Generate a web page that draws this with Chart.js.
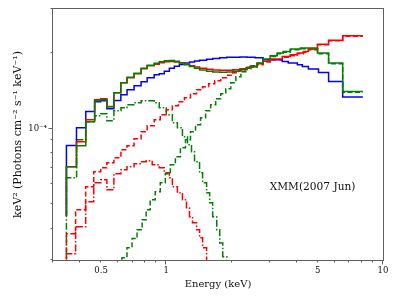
<!DOCTYPE html>
<html><head><meta charset="utf-8">
<script src="https://cdn.jsdelivr.net/npm/chart.js@4"></script>
<style>html,body{margin:0;padding:0;background:#fff;}canvas{display:block;}</style>
</head><body>
<canvas id="c" width="399" height="299"></canvas>
<script>
// ---- axis ranges & ticks ----
const xMin = 0.3, xMax = 10;
const yMin = 3e-5, yMax = 3e-4;
const xTickValues = [0.3,0.4,0.5,0.6,0.7,0.8,0.9,1,2,3,4,5,6,7,8,9,10];
const xMajorTicks = [1,10];
const xTickLabels = {0.5:'0.5', 1:'1', 5:'5', 10:'10'};
const yTickValues = [3e-5,4e-5,5e-5,6e-5,7e-5,8e-5,9e-5,1e-4,2e-4,3e-4];
const yMajorTicks = [1e-4];
const yTickLabelValue = 1e-4, yTickLabelText = '10⁻⁴';
const xTitle = 'Energy (keV)';
const yTitle = 'keV² (Photons cm⁻² s⁻¹ keV⁻¹)';
const annotText = 'XMM(2007 Jun)';
const annotE = 3.0, annotF = 5.86e-5;

// ---- blue total (bin edges in keV, values per bin) ----
const blueStart = 4.5e-5;
const blueEdges = [0.346,0.385,0.425,0.467,0.498,0.532,0.573,0.617,0.659,0.710,0.765,0.816,0.879,0.928,0.979,1.033,1.089,1.149,1.213,1.279,1.350,1.424,1.535,1.637,1.764,1.902,2.028,2.186,2.356,2.567,2.796,3.427,3.654,4.024,4.245,4.526,5.039,5.610,6.516,8.072];
const blueValues = [8.58e-5,1.009e-4,1.172e-4,1.281e-4,1.293e-4,1.201e-4,1.296e-4,1.366e-4,1.430e-4,1.483e-4,1.539e-4,1.597e-4,1.641e-4,
 1.656e-4,1.695e-4,1.742e-4,1.774e-4,1.803e-4,1.827e-4,1.845e-4,1.861e-4,1.874e-4,1.892e-4,1.906e-4,1.918e-4,1.925e-4,1.929e-4,1.931e-4,1.927e-4,1.918e-4,
 1.883e-4,1.854e-4,1.827e-4,1.799e-4,1.771e-4,1.729e-4,1.676e-4,1.543e-4,1.338e-4];

// ---- red total ----
const redStart = 4.5e-5;
const redEdges = [0.346,0.385,0.425,0.467,0.498,0.532,0.573,0.617,0.659,0.710,0.765,0.816,0.879,0.928,0.979,1.033,1.089,1.149,1.213,1.279,1.350,1.424,1.535,1.637,1.764,1.902,2.028,2.186,2.356,2.432,2.622,2.796,3.014,3.427,3.734,4.024,4.291,4.526,4.985,5.610,6.516,8.072];
const redValues = [0.706e-4,0.888e-4,1.086e-4,1.305e-4,1.317e-4,1.227e-4,1.391e-4,1.525e-4,1.597e-4,1.656e-4,1.734e-4,1.782e-4,1.807e-4,
 1.832e-4,1.849e-4,1.852e-4,1.844e-4,1.827e-4,1.807e-4,1.782e-4,1.761e-4,1.742e-4,1.726e-4,1.715e-4,1.711e-4,1.711e-4,1.718e-4,1.734e-4,1.758e-4,
 1.771e-4,1.816e-4,1.857e-4,1.895e-4,1.941e-4,1.971e-4,2.002e-4,2.032e-4,2.078e-4,2.171e-4,2.252e-4,2.347e-4];

// ---- green total ----
const greenStart = 4.5e-5;
const greenEdges = [0.346,0.385,0.425,0.467,0.498,0.532,0.573,0.617,0.659,0.710,0.765,0.816,0.879,0.928,0.979,1.033,1.089,1.149,1.213,1.279,1.350,1.424,1.535,1.637,1.764,1.902,2.028,2.186,2.356,2.432,2.622,2.796,3.014,3.249,3.464,3.734,4.155,4.985,5.610,6.516,8.072];
const greenValues = [0.706e-4,0.856e-4,1.066e-4,1.293e-4,1.305e-4,1.224e-4,1.391e-4,1.525e-4,1.604e-4,1.664e-4,1.742e-4,1.791e-4,1.824e-4,
 1.849e-4,1.866e-4,1.870e-4,1.857e-4,1.832e-4,1.799e-4,1.769e-4,1.742e-4,1.715e-4,1.695e-4,1.682e-4,1.679e-4,1.682e-4,1.695e-4,1.718e-4,1.742e-4,
 1.766e-4,1.827e-4,1.895e-4,1.953e-4,2.002e-4,2.032e-4,2.078e-4,2.097e-4,2.002e-4,1.827e-4,1.408e-4];

// ---- red hard component (dashed) ----
const redHardEdges = [0.346,0.3815,0.4245,0.4625,0.4984,0.5317,0.573,0.6175,0.6585,0.7099,0.7652,0.8159,0.8794,0.9378,1.0,1.0664,1.1371,1.2128,1.2930,1.3790,1.4704,1.5679,1.6723,1.7834,1.9020,2.0277,2.1623,2.3061,2.4587,2.6219,2.7963,3.0135,3.4271,3.7336,4.0237,4.2910,4.5264,4.9851,5.6098,6.5163,8.0724];
const redHardValues = [0.382e-4,0.476e-4,0.587e-4,0.674e-4,0.699e-4,0.732e-4,0.766e-4,0.825e-4,0.856e-4,0.912e-4,
 0.973e-4,1.028e-4,1.086e-4,1.137e-4,1.190e-4,1.235e-4,1.281e-4,1.329e-4,1.379e-4,1.430e-4,
 1.470e-4,1.511e-4,1.553e-4,1.597e-4,1.634e-4,1.672e-4,1.703e-4,1.734e-4,1.758e-4,1.799e-4,
 1.844e-4,1.883e-4,1.927e-4,1.953e-4,1.989e-4,2.017e-4,2.064e-4,2.161e-4,2.242e-4,2.336e-4];

// ---- red soft component (dash-dot) ----
const redSoftEdges = [0.346,0.3815,0.4245,0.4625,0.4984,0.5317,0.573,0.6175,0.6585,0.7099,0.7571,0.8072,0.8608,0.9278,0.9788,1.0326,1.0664,1.1250,1.1870,1.2392,1.2794,1.3211,1.3790,1.4238,1.4704,1.5346];
const redSoftValues = [0.318e-4,0.407e-4,0.512e-4,0.609e-4,0.626e-4,0.571e-4,0.662e-4,0.687e-4,0.706e-4,0.726e-4,
 0.739e-4,0.746e-4,0.719e-4,0.699e-4,0.668e-4,0.638e-4,0.587e-4,0.556e-4,0.521e-4,0.485e-4,
 0.446e-4,0.422e-4,0.396e-4,0.368e-4,0.336e-4];

// ---- green soft component (dash-dot) ----
const greenSoftEdges = [0.346,0.3855,0.4245,0.4674,0.4984,0.5317,0.573,0.6175,0.6585,0.7099,0.7652,0.8159,0.8794,0.9278,1.0,1.0664,1.125,1.187,1.2525,1.3071,1.3497,1.4238,1.4704,1.5346,1.5849,1.6368,1.7087,1.7644,1.8221,1.9020];
const greenSoftValues = [0.638e-4,0.904e-4,1.066e-4,1.127e-4,1.148e-4,1.076e-4,1.180e-4,1.212e-4,1.246e-4,1.269e-4,
 1.293e-4,1.293e-4,1.269e-4,1.212e-4,1.137e-4,1.057e-4,1.009e-4,0.929e-4,0.864e-4,0.810e-4,
 0.739e-4,0.668e-4,0.609e-4,0.556e-4,0.507e-4,0.446e-4,0.396e-4,0.351e-4,0.309e-4];

// ---- green hard component (dashed) ----
const greenHardEdges = [0.6241,0.6585,0.6949,0.7330,0.7735,0.8072,0.8427,0.8888,0.9378,0.9894,1.0438,1.1012,1.1618,1.2259,1.2930,1.3643,1.4391,1.5186,1.6021,1.6904,1.7834,1.8817,1.9846,2.0941,2.2092,2.3310,2.4587,2.6219,2.7963,3.0135,3.2485,3.4637,3.7336,4.1550,4.9851,5.6098,6.5163,8.0724];
const greenHardValues = [0.306e-4,0.336e-4,0.365e-4,0.396e-4,0.434e-4,0.476e-4,0.521e-4,0.561e-4,0.609e-4,0.662e-4,
 0.719e-4,0.774e-4,0.840e-4,0.904e-4,0.973e-4,1.037e-4,1.106e-4,1.180e-4,1.246e-4,1.317e-4,
 1.379e-4,1.443e-4,1.525e-4,1.612e-4,1.687e-4,1.750e-4,1.782e-4,1.824e-4,1.883e-4,1.940e-4,
 1.989e-4,2.017e-4,2.064e-4,2.083e-4,1.989e-4,1.816e-4,1.398e-4];

const offScale = 1e-5; // below the plotted range

function stepData(edges, values, start, end) {
  const pts = [{x: edges[0], y: start}];
  for (let i = 0; i < values.length; i++) pts.push({x: edges[i], y: values[i]});
  pts.push({x: edges[edges.length - 1], y: end === undefined ? values[values.length - 1] : end});
  return pts;
}

const BLUE = '#0000ff', RED = '#ff0000', GREEN = '#008000';
const serif = "'DejaVu Serif', 'Liberation Serif', serif";

function ds(label, data, color, dash, order) {
  return {label, data, borderColor: color, backgroundColor: color, borderWidth: 1.5,
    borderDash: dash, pointRadius: 0, stepped: true, fill: false, order, tension: 0};
}

const datasets = [
  ds('green total', stepData(greenEdges, greenValues, greenStart), GREEN, [], 1),
  ds('red total', stepData(redEdges, redValues, redStart), RED, [], 2),
  ds('blue total', stepData(blueEdges, blueValues, blueStart), BLUE, [], 3),
  ds('green hard', stepData(greenHardEdges, greenHardValues, offScale), GREEN, [5, 2.5], 4),
  ds('red hard', stepData(redHardEdges, redHardValues, offScale), RED, [5, 2.5], 5),
  ds('green soft', stepData(greenSoftEdges, greenSoftValues, offScale, offScale), GREEN, [7, 2, 1.5, 2], 6),
  ds('red soft', stepData(redSoftEdges, redSoftValues, offScale, offScale), RED, [7, 2, 1.5, 2], 7),
];

const frameAndTicks = {
  id: 'frameAndTicks',
  afterDraw(chart) {
    const {ctx, chartArea: a, scales: {x, y}} = chart;
    ctx.save();
    ctx.strokeStyle = '#606060';
    ctx.lineWidth = 1;
    ctx.strokeRect(Math.round(a.left) - 0.5, Math.round(a.top) - 0.5,
      Math.round(a.right) - Math.round(a.left) + 1, Math.round(a.bottom) - Math.round(a.top) + 1);
    ctx.beginPath();
    xTickValues.forEach(v => {
      const px = Math.round(x.getPixelForValue(v)) - 0.5;
      const len = xMajorTicks.includes(v) ? 4.5 : 2.5;
      ctx.moveTo(px, Math.round(a.bottom)); ctx.lineTo(px, Math.round(a.bottom) + len);
    });
    yTickValues.forEach(v => {
      const py = Math.round(y.getPixelForValue(v)) - 0.5;
      const len = yMajorTicks.includes(v) ? 4.5 : 2.5;
      ctx.moveTo(Math.round(a.left), py); ctx.lineTo(Math.round(a.left) - len, py);
    });
    ctx.stroke();
    ctx.fillStyle = '#111';
    ctx.font = "10.6px " + serif;
    ctx.textAlign = 'left';
    ctx.textBaseline = 'middle';
    ctx.fillText(annotText, x.getPixelForValue(annotE), y.getPixelForValue(annotF));
    ctx.restore();
  }
};

new Chart(document.getElementById('c'), {
  type: 'line',
  data: {datasets},
  options: {
    responsive: false, animation: false, devicePixelRatio: 1,
    layout: {padding: {left: 0, top: 9, right: 16, bottom: 0}},
    plugins: {legend: {display: false}, tooltip: {enabled: false}},
    scales: {
      x: {
        type: 'logarithmic', min: xMin, max: xMax,
        afterFit: s => { s.height = 39; },
        afterBuildTicks: s => { s.ticks = xTickValues.map(v => ({value: v})); },
        ticks: {autoSkip: false, maxRotation: 0, padding: 2, color: '#111',
          font: {family: serif, size: 8.5},
          callback: v => (xTickLabels[v] !== undefined ? xTickLabels[v] : '')},
        grid: {display: true, drawOnChartArea: false, drawTicks: true, tickLength: 4, tickColor: 'rgba(0,0,0,0)'},
        border: {display: false},
        title: {display: true, text: xTitle, color: '#111', font: {family: serif, size: 10}, padding: {top: 0, bottom: 9}}
      },
      y: {
        type: 'logarithmic', min: yMin, max: yMax,
        afterFit: s => { s.width = 53; },
        afterBuildTicks: s => { s.ticks = yTickValues.map(v => ({value: v})); },
        ticks: {autoSkip: false, padding: 1, color: '#111',
          font: {family: serif, size: 8.5},
          callback: v => (v === yTickLabelValue ? yTickLabelText : '')},
        grid: {display: true, drawOnChartArea: false, drawTicks: true, tickLength: 5, tickColor: 'rgba(0,0,0,0)'},
        border: {display: false},
        title: {display: true, text: yTitle, color: '#111', font: {family: serif, size: 11}, padding: {top: 12, bottom: 0}}
      }
    }
  },
  plugins: [frameAndTicks]
});
</script>
</body></html>
